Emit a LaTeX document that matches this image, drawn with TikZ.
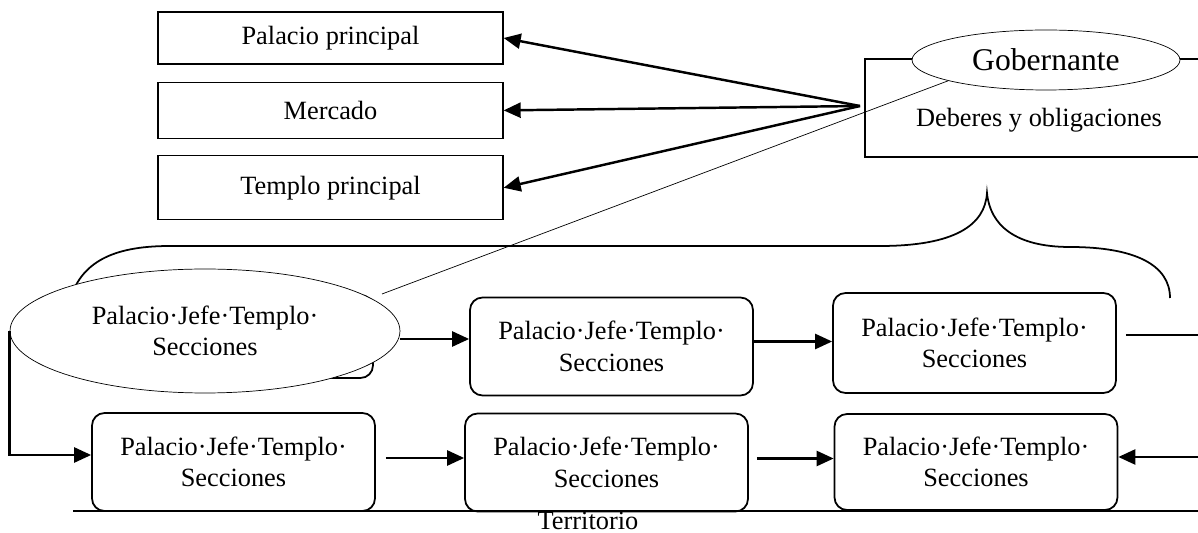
\documentclass[tikz,border=0pt]{standalone}
\usepackage{fontspec}
\setmainfont{Liberation Serif}
\usetikzlibrary{shapes,arrows.meta,positioning,calc}

\begin{document}
\begin{tikzpicture}[
    x=0.02cm, y=-0.02cm,
    every node/.style={font=\fontsize{15}{18}\selectfont},
    place/.style={rectangle, draw, line width=0.8pt, minimum width=6.9cm, align=center},
    unit/.style={rectangle, draw, fill=white, rounded corners=0.25cm, line width=1pt, minimum width=5.66cm, minimum height=1.96cm, align=center},
    oval/.style={ellipse, draw, fill=white, inner sep=0pt, align=center},
    arrow/.style={-{Triangle[length=0.34cm,width=0.3cm]}, line width=1.4pt}
]
    \useasboundingbox (0,0) rectangle (1198,533);
    \draw[line width=1pt] (70,300) .. controls (82,258) and (120,246) .. (170,246) -- (880,246)
        .. controls (955,246) and (985,225) .. (987,193) .. controls (990,225) and (1015,247) .. (1070,247)
        .. controls (1135,247) and (1170,265) .. (1170,298);

    \node[place, minimum height=1.04cm] (palacio) at (330.5,38) {Palacio principal};
    \node[place, minimum height=1.12cm, below=0.34cm of palacio] (mercado) {Mercado};
    \node[place, minimum height=1.28cm, below=0.32cm of mercado] (templo) {Templo principal};

    \node[rectangle, draw, line width=1pt, minimum width=6.96cm, minimum height=1.96cm] (gobbox) at (1039,108) {};
    \node (deberes) at (1039,120) {Deberes y obligaciones};
    \node[oval, minimum width=5.36cm, minimum height=1.2cm, font=\fontsize{18}{20}\selectfont] (gob) at (1046,60) {Gobernante};

    \coordinate (hub) at (860,106);
    \draw[arrow] (hub) -- (palacio.east);
    \draw[arrow] (hub) -- (mercado.east);
    \draw[arrow] (hub) -- (templo.east);

    \node[unit, minimum height=1.66cm] (a) at (231.5,336.5) {};
    \node[unit] (b) at (611.5,346.5) {Palacio·Jefe·Templo·\\Secciones};
    \node[unit, minimum height=2cm] (c) at (974.5,343) {Palacio·Jefe·Templo·\\Secciones};
    \node[unit] (d) at (233.5,462) {Palacio·Jefe·Templo·\\Secciones};
    \node[unit] (e) at (606.5,462.5) {Palacio·Jefe·Templo·\\Secciones};
    \node[unit, minimum height=1.92cm] (f) at (976,462) {Palacio·Jefe·Templo·\\Secciones};
    \node[oval, minimum width=7.8cm, minimum height=2.48cm] (ell) at (205,331) {Palacio·Jefe·Templo·\\Secciones};

    \coordinate (cend) at (1198,335);
    \coordinate (fend) at (1198,457);
    \draw[arrow] ([yshift=-0.16cm]ell.east) -- ([yshift=-0.16cm]ell.east -| b.west);
    \draw[arrow] ([yshift=0.1cm]b.east) -- ([yshift=0.1cm]b.east -| c.west);
    \draw[line width=1.4pt, shorten <=0.18cm] (c.east |- cend) -- (cend);
    \draw[arrow] (ell.west) |- ([yshift=0.14cm]d.west);
    \draw[arrow, shorten <=0.2cm] ([yshift=0.08cm]d.east) -- ([yshift=0.08cm]d.east -| e.west);
    \draw[arrow, shorten <=0.16cm] ([yshift=0.08cm]e.east) -- ([yshift=0.08cm]e.east -| f.west);
    \draw[arrow] (fend) -- (fend -| f.east);

    \coordinate (t0) at (73,511);
    \coordinate (t1) at (1198,511);
    \draw[line width=1.4pt] (t0) -- (t1);
    \node[anchor=north, inner sep=0pt] (territorio) at (588,512) {Territorio};

    \coordinate (tail) at (382,294);
    \draw[line width=0.4pt] (gob.192) -- (tail);
\end{tikzpicture}
\end{document}
